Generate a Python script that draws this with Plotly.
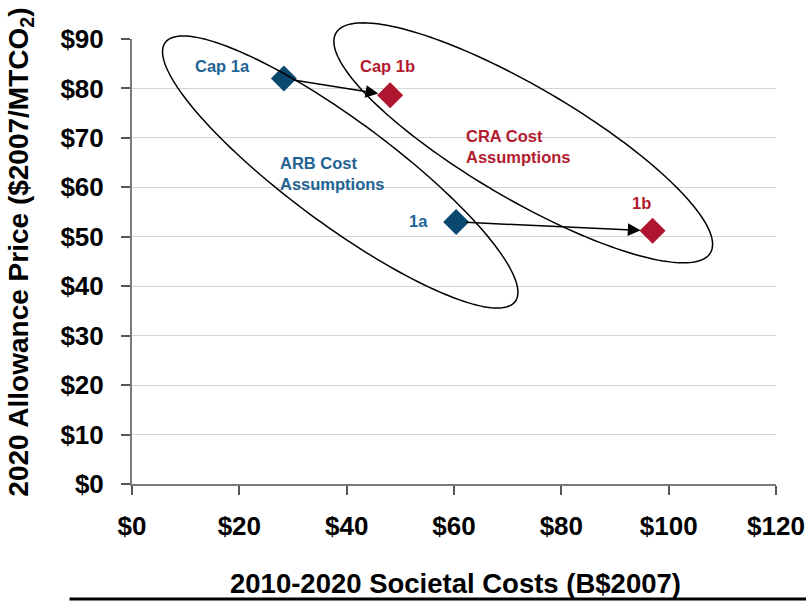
import numpy as np
import plotly.graph_objects as go

# Scenario results: cumulative societal cost vs. 2020 allowance price
scenario = ["Cap 1a", "Cap 1b", "1a", "1b"]
societal_cost = [28.3, 48.1, 60.4, 97.0]        # B$2007
allowance_price = [82.0, 78.6, 53.0, 51.2]      # $2007/MTCO2
cost_basis = ["ARB", "CRA", "ARB", "CRA"]

x_ticks = [0, 20, 40, 60, 80, 100, 120]
y_ticks = [0, 10, 20, 30, 40, 50, 60, 70, 80, 90]

X_RANGE = [0, 120]
Y_RANGE = [0, 90]

MARKER_COLOR = {"ARB": "#0B4870", "CRA": "#B0152F"}
TEXT_COLOR = {"ARB": "#1F6394", "CRA": "#B21A2E"}
FONT = "Liberation Sans, Arial, sans-serif"

# Label offsets (pixels) relative to each point
label_shift = {"Cap 1a": (-61, 13), "Cap 1b": (-3, 29), "1a": (-38, 1), "1b": (-11, 28)}

# Grouping ellipses: centre and two conjugate semi-axis vectors, in data units
ellipses = {
    "ARB": {"c": (38.8, 63.1), "u": (32.6, -26.2), "v": (-5.8, -8.4)},
    "CRA": {"c": (72.9, 69.0), "u": (34.9, -22.2), "v": (-5.2, -9.8)},
}


def to_paper(x, y):
    px = (np.asarray(x) - X_RANGE[0]) / (X_RANGE[1] - X_RANGE[0])
    py = (np.asarray(y) - Y_RANGE[0]) / (Y_RANGE[1] - Y_RANGE[0])
    return px, py


def ellipse_path(c, u, v, n=180):
    t = np.linspace(0, 2 * np.pi, n, endpoint=False)
    ex = c[0] + u[0] * np.cos(t) + v[0] * np.sin(t)
    ey = c[1] + u[1] * np.cos(t) + v[1] * np.sin(t)
    px, py = to_paper(ex, ey)
    pts = [f"{a:.5f},{b:.5f}" for a, b in zip(px, py)]
    return "M " + " L ".join(pts) + " Z"


fig = go.Figure()

fig.add_trace(go.Scatter(
    x=societal_cost,
    y=allowance_price,
    mode="markers",
    marker=dict(symbol="diamond", size=20,
                color=[MARKER_COLOR[b] for b in cost_basis],
                line=dict(width=0)),
    hoverinfo="skip",
    showlegend=False,
    cliponaxis=False,
))

shapes = []
for key, e in ellipses.items():
    shapes.append(dict(type="path", xref="paper", yref="paper",
                       path=ellipse_path(e["c"], e["u"], e["v"]),
                       line=dict(color="black", width=1.5),
                       fillcolor="rgba(0,0,0,0)", layer="above"))

# Rule under the x-axis title
shapes.append(dict(type="line", xref="paper", yref="paper",
                   x0=-0.097, x1=1.06, y0=-0.2585, y1=-0.2585,
                   line=dict(color="black", width=3)))

annotations = []
for name, x, y, b in zip(scenario, societal_cost, allowance_price, cost_basis):
    dx, dy = label_shift[name]
    annotations.append(dict(x=x, y=y, xref="x", yref="y", text=name,
                            showarrow=False, xshift=dx, yshift=dy,
                            font=dict(family=FONT, size=16.5, color=TEXT_COLOR[b],
                                      weight="bold")))

# Arrows from ARB-cost scenarios to their CRA-cost counterparts
for src, dst in [(0, 1), (2, 3)]:
    annotations.append(dict(x=societal_cost[dst], y=allowance_price[dst],
                            ax=societal_cost[src], ay=allowance_price[src],
                            xref="x", yref="y", axref="x", ayref="y",
                            text="", showarrow=True, arrowhead=2, arrowsize=1.7,
                            arrowwidth=1.5, arrowcolor="black",
                            standoff=12, startstandoff=8))

annotations.append(dict(x=27.2, y=62.7, xref="x", yref="y",
                        text="ARB Cost<br>Assumptions", align="left",
                        xanchor="left", yanchor="middle", showarrow=False,
                        font=dict(family=FONT, size=16.5, color=TEXT_COLOR["ARB"],
                                  weight="bold")))
annotations.append(dict(x=61.9, y=68.2, xref="x", yref="y",
                        text="CRA Cost<br>Assumptions", align="left",
                        xanchor="left", yanchor="middle", showarrow=False,
                        font=dict(family=FONT, size=16.5, color=TEXT_COLOR["CRA"],
                                  weight="bold")))

# Axis titles
annotations.append(dict(x=0.5016, y=-0.223, xref="paper", yref="paper",
                        text="2010-2020 Societal Costs (B$2007)", showarrow=False,
                        xanchor="center", yanchor="middle",
                        font=dict(family=FONT, size=27.5, color="black", weight="bold")))
annotations.append(dict(x=-0.1724, y=0.522, xref="paper", yref="paper",
                        text="2020 Allowance Price ($2007/MTCO<sub>2</sub>)",
                        textangle=-90, showarrow=False,
                        xanchor="center", yanchor="middle",
                        font=dict(family=FONT, size=28, color="black", weight="bold")))

tick_font = dict(family=FONT, size=26, color="black", weight="bold")

fig.update_layout(
    width=806, height=601,
    margin=dict(l=132, r=30, t=39, b=117, autoexpand=False),
    paper_bgcolor="white", plot_bgcolor="white",
    shapes=shapes, annotations=annotations,
    xaxis=dict(range=X_RANGE, tickvals=x_ticks, ticktext=[f"${v}" for v in x_ticks],
               showgrid=False, zeroline=False, showline=True, linecolor="#7a7a7a",
               linewidth=2, ticks="outside", ticklen=9, tickwidth=2,
               tickcolor="#555555", ticklabelstandoff=9, automargin=False,
               ticklabeloverflow="allow", tickfont=tick_font, fixedrange=True),
    yaxis=dict(range=Y_RANGE, tickvals=y_ticks, ticktext=[f"${v}" for v in y_ticks],
               showgrid=True, gridcolor="#d4d4d4", gridwidth=1, zeroline=False,
               showline=True, linecolor="#7a7a7a", linewidth=2, ticks="outside",
               ticklen=9, tickwidth=2, tickcolor="#555555", ticklabelstandoff=12,
               automargin=False, ticklabeloverflow="allow", tickfont=tick_font,
               fixedrange=True),
)

fig.write_html("out.html")
